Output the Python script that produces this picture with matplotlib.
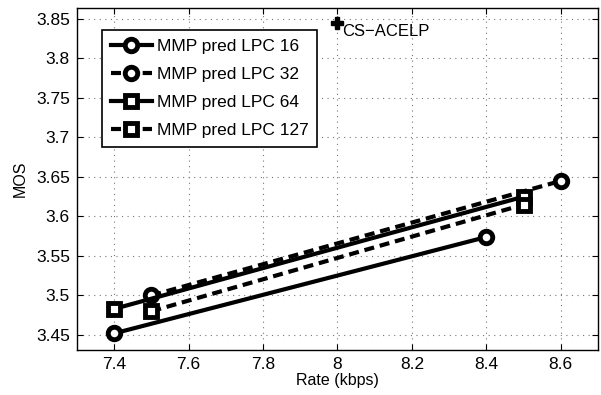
import matplotlib
matplotlib.use('Agg')
import matplotlib.pyplot as plt

plt.rcParams['font.family'] = ['Liberation Sans', 'DejaVu Sans']

# data
rate16 = [7.4, 8.4]
mos16 = [3.452, 3.574]
rate32 = [7.5, 8.6]
mos32 = [3.500, 3.645]
rate64 = [7.4, 8.5]
mos64 = [3.483, 3.625]
rate127 = [7.5, 8.5]
mos127 = [3.480, 3.615]
acelp_rate = 8.0
acelp_mos = 3.845

xticks = [7.4, 7.6, 7.8, 8.0, 8.2, 8.4, 8.6]
xlabels = ['7.4', '7.6', '7.8', '8', '8.2', '8.4', '8.6']
yticks = [3.45, 3.5, 3.55, 3.6, 3.65, 3.7, 3.75, 3.8, 3.85]
ylabels = ['3.45', '3.5', '3.55', '3.6', '3.65', '3.7', '3.75', '3.8', '3.85']

fig = plt.figure(figsize=(6.01, 3.95), dpi=100)
ax = fig.add_axes([0.128, 0.114, 0.867, 0.866])

style = dict(color='k', lw=3, mfc='white', mec='k', mew=3.5)
ax.plot(rate16, mos16, '-o', ms=9, label='MMP pred LPC 16', **style)
ax.plot(rate32, mos32, '--o', ms=9, dashes=(2.4, 1.4), label='MMP pred LPC 32', **style)
ax.plot(rate64, mos64, '-s', ms=8.5, label='MMP pred LPC 64', **style)
ax.plot(rate127, mos127, '--s', ms=8.5, dashes=(2.4, 1.4), label='MMP pred LPC 127', **style)

ax.plot([acelp_rate], [acelp_mos], 'P', color='k', ms=8)
ax.text(acelp_rate + 0.012, acelp_mos - 0.002, 'CS\u2212ACELP', fontsize=12, va='top', ha='left')

ax.set_xlim(7.3, 8.7)
ax.set_ylim(3.431, 3.864)
ax.set_xticks(xticks)
ax.set_xticklabels(xlabels)
ax.set_yticks(yticks)
ax.set_yticklabels(ylabels)
ax.tick_params(direction='in', top=True, right=True, labelsize=12.5, length=4, pad=5)
ax.grid(True, linestyle=(0, (1, 4)), color='#777777', lw=0.8)
ax.set_xlabel('Rate (kbps)', fontsize=11.5, labelpad=1)
ax.set_ylabel('MOS', fontsize=11.5, labelpad=6)
for s in ax.spines.values():
    s.set_linewidth(1)

leg = ax.legend(loc='upper left', bbox_to_anchor=(0.048, 0.936), borderaxespad=0,
                fontsize=12.5, fancybox=False, edgecolor='k', framealpha=1,
                handlelength=2.4, labelspacing=0.75, borderpad=0.5, handletextpad=0.25)
leg.get_frame().set_linewidth(1.2)

fig.savefig('out.png', dpi=100)
